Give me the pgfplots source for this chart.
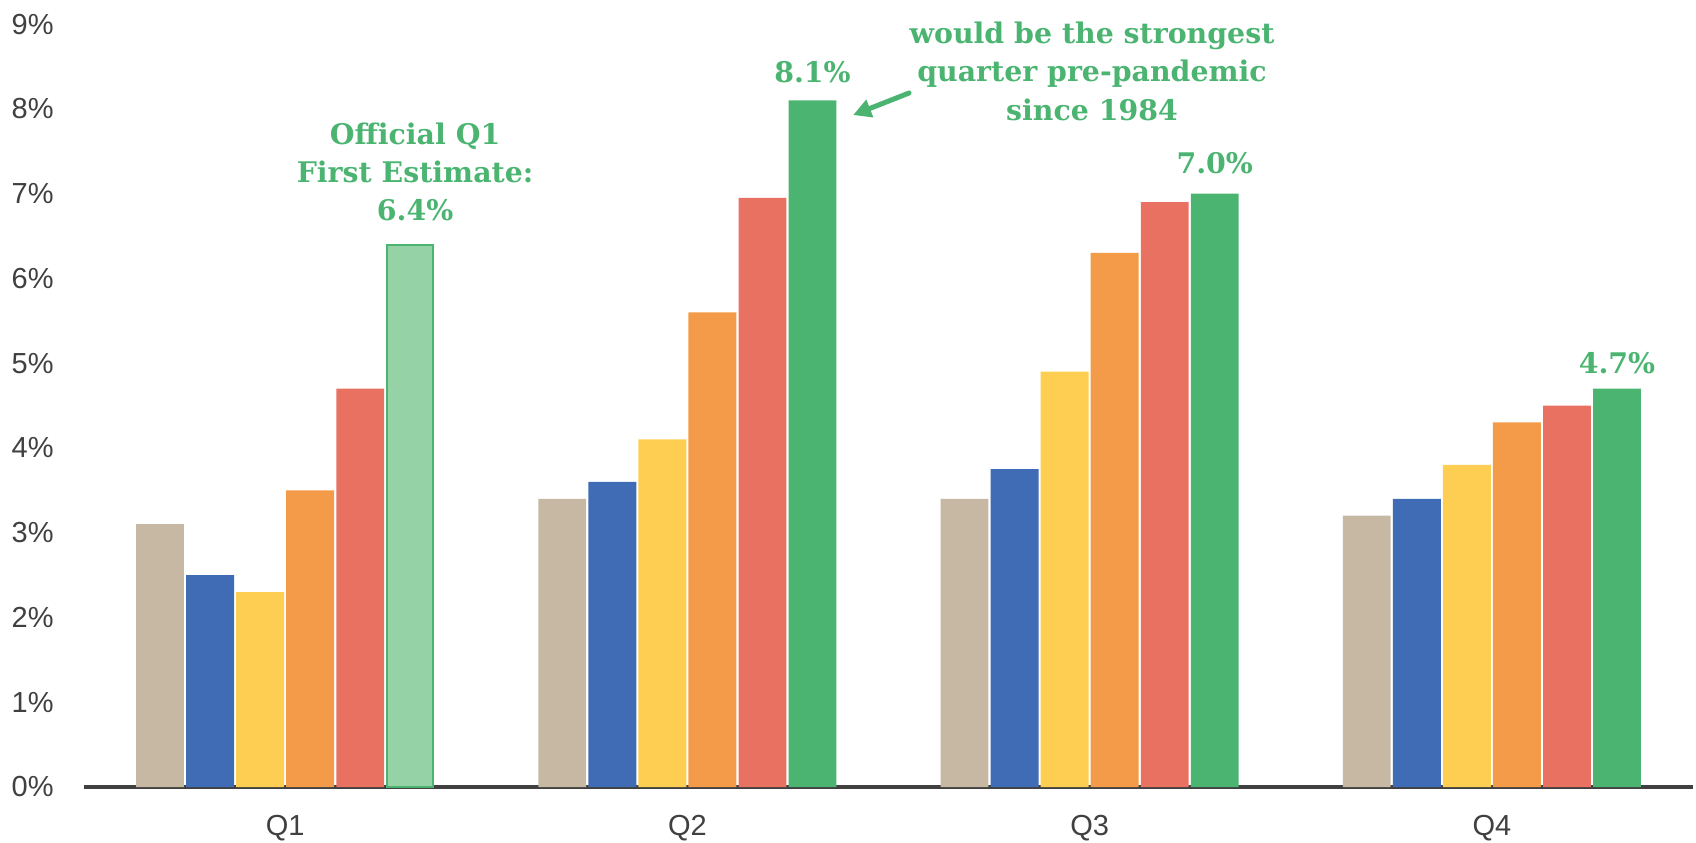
\documentclass[border=0pt]{standalone}
\usepackage{pgfplots}
\pgfplotsset{compat=1.18}
\usepackage{fontspec}
\setmainfont{Liberation Sans}
\newfontfamily\annfont{DejaVu Serif}
\usetikzlibrary{arrows.meta}
\definecolor{ctan}{HTML}{C7B8A4}
\definecolor{cblue}{HTML}{3F6CB4}
\definecolor{cyellow}{HTML}{FECE52}
\definecolor{corange}{HTML}{F39B48}
\definecolor{cred}{HTML}{E97162}
\definecolor{cgreen}{HTML}{4BB471}
\definecolor{clight}{HTML}{95D2A6}
\definecolor{tickgray}{HTML}{404040}
\begin{document}
\begin{tikzpicture}
\useasboundingbox (0,0) rectangle (848pt,421pt);
\begin{axis}[
  at={(42pt,27.5pt)}, anchor=south west,
  scale only axis, width=804.5pt, height=381.5pt,
  xmin=-0.5, xmax=3.5, ymin=0, ymax=9,
  ybar, bar width=0.119,
  xtick={0,1,2,3}, xticklabels={Q1,Q2,Q3,Q4},
  ytick={0,1,2,3,4,5,6,7,8,9},
  yticklabels={0\%,1\%,2\%,3\%,4\%,5\%,6\%,7\%,8\%,9\%},
  tick style={draw=none}, major tick length=0pt,
  axis x line=bottom, axis y line=left,
  x axis line style={-, draw=tickgray, line width=2pt},
  y axis line style={draw=none},
  y tick label style={font=\fontsize{14.5}{17}\selectfont, text=tickgray, anchor=east, inner sep=0pt, xshift=-15pt},
  x tick label style={font=\fontsize{14.5}{17}\selectfont, text=tickgray, anchor=north, inner sep=0pt, yshift=-14pt},
  clip=false,
  every node/.style={},
]
\addplot[fill=ctan, draw=none, bar shift=-0.311] coordinates {(0,3.1) (1,3.4) (2,3.4) (3,3.2)};
\addplot[fill=cblue, draw=none, bar shift=-0.1866] coordinates {(0,2.5) (1,3.6) (2,3.75) (3,3.4)};
\addplot[fill=cyellow, draw=none, bar shift=-0.0622] coordinates {(0,2.3) (1,4.1) (2,4.9) (3,3.8)};
\addplot[fill=corange, draw=none, bar shift=0.0622] coordinates {(0,3.5) (1,5.6) (2,6.3) (3,4.3)};
\addplot[fill=cred, draw=none, bar shift=0.1866] coordinates {(0,4.7) (1,6.95) (2,6.9) (3,4.5)};
\addplot[fill=cgreen, draw=none, bar shift=0.311] coordinates {(1,8.1) (2,7.0) (3,4.7)};
\addplot[fill=clight, draw=cgreen, line width=1pt, bar shift=0.311, bar width=0.114] coordinates {(0,6.39)};
\begin{scope}[every node/.style={font=\annfont\bfseries\fontsize{14.2}{17}\selectfont, text=cgreen, anchor=base, inner sep=0pt}]
\node at (axis cs:0.323,7.584) {Official Q1};
\node at (axis cs:0.323,7.136) {First Estimate:};
\node at (axis cs:0.323,6.688) {6.4\%};
\node at (axis cs:1.311,8.316) {8.1\%};
\node at (axis cs:2.006,8.776) {would be the strongest};
\node at (axis cs:2.006,8.327) {quarter pre-pandemic};
\node at (axis cs:2.006,7.867) {since 1984};
\node at (axis cs:2.311,7.242) {7.0\%};
\node at (axis cs:3.311,4.883) {4.7\%};
\end{scope}
\draw[cgreen, line width=2.5pt, line cap=round, -{Triangle[length=9pt,width=9pt]}] (axis cs:1.551,8.186) -- (axis cs:1.412,7.926);
\end{axis}
\end{tikzpicture}
\end{document}
